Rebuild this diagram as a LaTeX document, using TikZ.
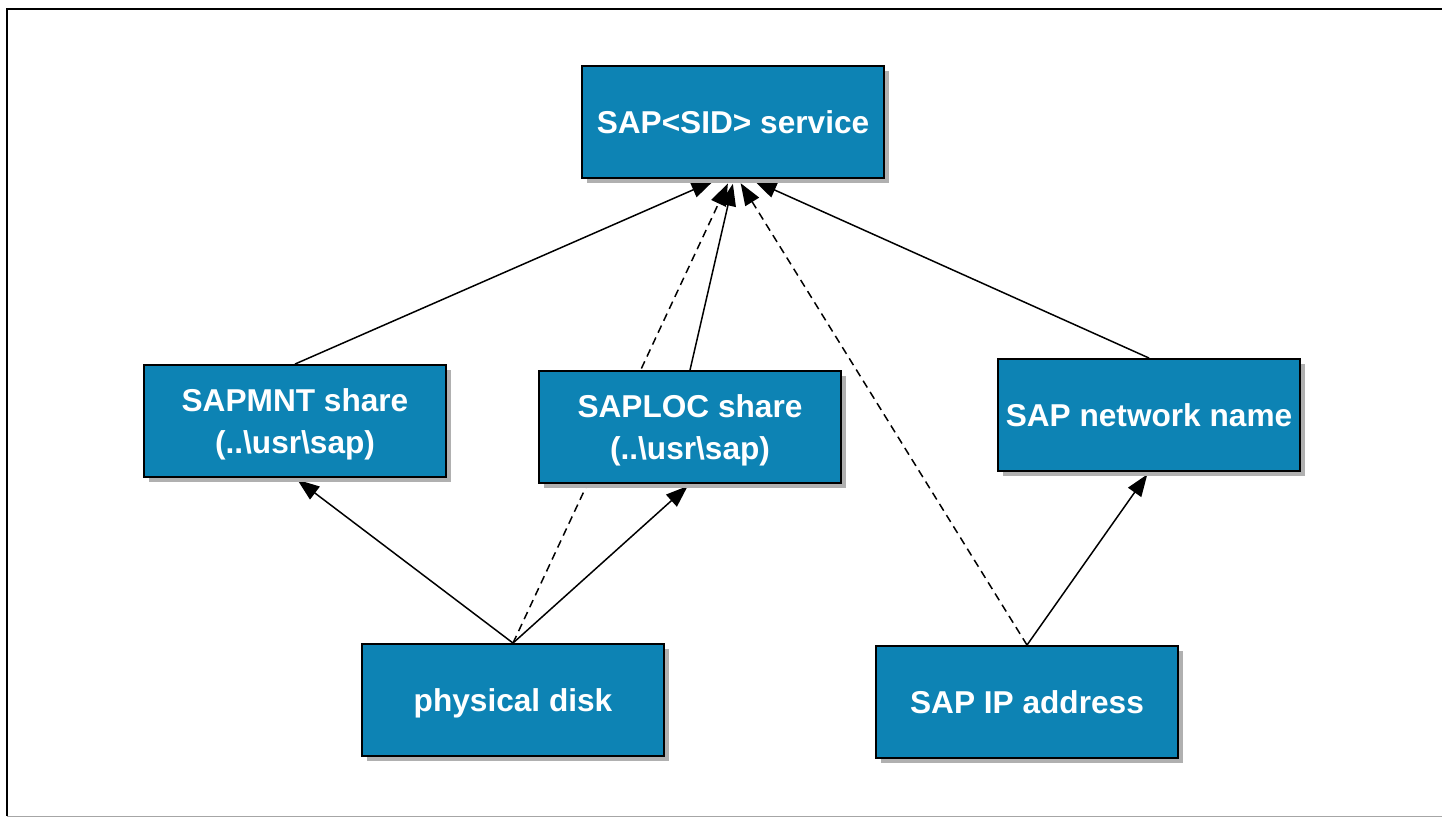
\documentclass[tikz,border=0pt]{standalone}
\usepackage{fontspec}
\setmainfont{Liberation Sans}
\usepackage{tikz}
\usetikzlibrary{arrows.meta,shadows,backgrounds}

\definecolor{sapblue}{RGB}{13,131,180}

\begin{document}
\begin{tikzpicture}[x=0.02cm,y=-0.02cm,>={Triangle[length=0.44cm,width=0.32cm]},
		main node/.style={rectangle,draw,line width=1.1pt,fill=sapblue,text=white,
			font=\bfseries\fontsize{18}{24}\selectfont,align=center,
			text height=13pt,text depth=0pt,
			minimum width=6.04cm,minimum height=2.24cm,inner sep=0pt,
			drop shadow={shadow xshift=0.1cm,shadow yshift=-0.1cm,fill=black!31,opacity=1}},
		two line/.style={text height=37pt},
		link/.style={->,line width=0.85pt},
		weak link/.style={link,dash pattern=on 4.5pt off 3pt}]
	\useasboundingbox (0,0) rectangle (1442,818);
	\node[main node] (svc) at (733,122) {SAP<SID> service};
	\node[main node,two line] (mnt) at (295,421) {SAPMNT share\\(..\textbackslash usr\textbackslash sap)};
	\node[main node,two line] (loc) at (690,427) {SAPLOC share\\(..\textbackslash usr\textbackslash sap)};
	\node[main node] (net) at (1149,415) {SAP network name};
	\node[main node] (disk) at (513,700) {physical disk};
	\node[main node] (ip) at (1027,702) {SAP IP address};
	%
	\begin{scope}[on background layer]
	% Outer frame.
	\draw[line width=1.4pt] (1460,9) -- (7,9) -- (7,816);
	\draw[black!35,line width=1pt] (7,816.5) -- (1460,816.5);
	%
	% Everything the service depends on.
	\path[link,shorten >=0.1cm]
		(mnt.north) edge ([xshift=-0.3cm]svc.south)
		(loc.north) edge ([xshift=0.02cm]svc.south)
		(net.north) edge ([xshift=0.34cm]svc.south);
	\path[weak link,shorten >=0.1cm]
		(disk.north) edge ([xshift=-0.06cm]svc.south)
		(ip.north) edge ([xshift=0.1cm]svc.south);
	%
	% Shares on the disk, name on the address.
	\path[link,shorten >=0.06cm]
		(disk.north) edge (mnt.south)
		(disk.north) edge (loc.south)
		(ip.north) edge (net.south);
	\end{scope}
\end{tikzpicture}
\end{document}
